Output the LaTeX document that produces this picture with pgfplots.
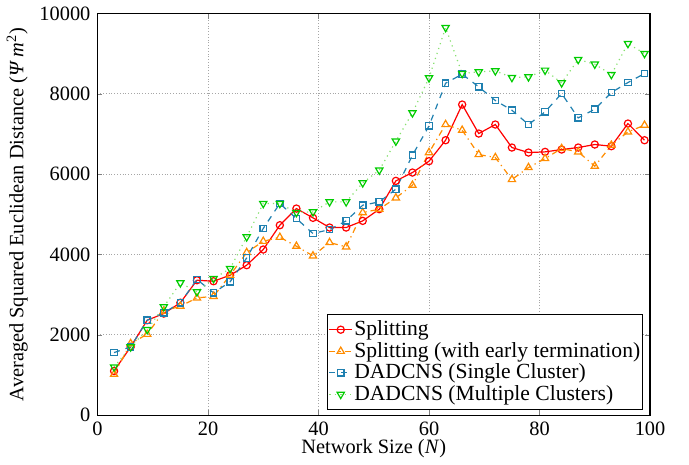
\documentclass[border=0pt]{standalone}
\usepackage{fontspec}
\setmainfont{Liberation Serif}
\usepackage{pgfplots}
\pgfplotsset{compat=1.18}
\definecolor{splitred}{HTML}{FF0000}
\definecolor{splitorange}{HTML}{FF8C00}
\definecolor{dadblue}{HTML}{1F80B0}
\definecolor{dadgreen}{HTML}{00CC00}
\definecolor{dadgreenline}{HTML}{88E070}

% Averaged squared Euclidean distance vs. network size
\pgfplotstableread{
N    split  early  single  multi
3    1100   1020   1560    1200
6    1700   1785   1700    1700
9    2365   2015   2365    2130
12   2530   2590   2550    2700
15   2800   2715   2800    3295
18   3360   2920   3380    3070
21   3335   2960   3045    3400
24   3485   3485   3320    3650
27   3735   4050   3915    4440
30   4125   4330   4650    5270
33   4730   4430   5270    5270
36   5145   4207   4896    5045
39   4913   3967   4523    5062
42   4672   4299   4622    5311
45   4672   4191   4838    5311
48   4838   5045   5228    5784
51   5129   5129   5311    6100
54   5834   5411   5627    6822
57   6041   5726   6473    7527
60   6324   6539   7203    8398
63   6846   7237   8266    9651
66   7734   7095   8490    8506
69   7012   6490   8174    8548
72   7237   6415   7834    8573
75   6664   5867   7593    8407
78   6539   6166   7237    8423
81   6556   6390   7552    8589
84   6614   6639   8008    8274
87   6664   6556   7402    8855
90   6739   6199   7618    8739
93   6697   6722   8033    8481
96   7261   7054   8282    9253
99   6846   7220   8506    9004
}\datatable

\begin{document}
\begin{tikzpicture}[font=\fontsize{10.2}{12}\selectfont]
\begin{axis}[
    scale only axis,
    width=276.5pt, height=201pt,
    xmin=0, xmax=100,
    ymin=0, ymax=10000,
    xtick={0,20,...,100},
    ytick={0,2000,...,10000},
    scaled y ticks=false,
    /pgf/number format/1000 sep={},
    /pgf/number format/assume math mode=true,
    tick align=inside,
    major tick length=2.5pt,
    axis line style={line width=0.6pt},
    grid=major,
    grid style={densely dotted, gray!70, line width=0.4pt},
    xlabel={Network Size (\textit{N})},
    ylabel={Averaged Squared Euclidean Distance (\textit{Ψ m}\textsuperscript{2})},
    xlabel style={yshift=5pt},
    ylabel style={yshift=-1pt},
    legend style={at={(0.988,0.012)}, anchor=south east, draw=black,
        line width=0.6pt, font=\fontsize{10.8}{12.4}\selectfont,
        row sep=-2.2pt, inner ysep=1.2pt, inner xsep=0.5pt,
        nodes={inner xsep=0.8pt}},
    legend cell align=left,
    legend image code/.code={
        \draw[mark repeat=2, mark phase=2]
            plot coordinates {(0cm,0cm) (0.2cm,0cm) (0.4cm,0cm)};},
    every axis plot/.append style={line width=0.6pt},
]
\addplot[splitred, solid, mark=o, mark size=1.8pt, mark options={solid}]
    table[x=N, y=split] {\datatable};
\addlegendentry{Splitting}
\addplot[splitorange, dash dot, mark=triangle, mark size=2.1pt, mark options={solid}]
    table[x=N, y=early] {\datatable};
\addlegendentry{Splitting (with early termination)}
\addplot[dadblue, dashed, mark=square, mark size=1.6pt, mark options={solid}]
    table[x=N, y=single] {\datatable};
\addlegendentry{DADCNS (Single Cluster)}
\addplot[dadgreenline, dotted, mark=triangle, mark size=2.1pt,
    mark options={solid, rotate=180, draw=dadgreen}]
    table[x=N, y=multi] {\datatable};
\addlegendentry{DADCNS (Multiple Clusters)}
\end{axis}
\path ([xshift=19.5pt]current axis.south east);
\path ([xshift=-48.3pt]current axis.north west);
\end{tikzpicture}
\end{document}
